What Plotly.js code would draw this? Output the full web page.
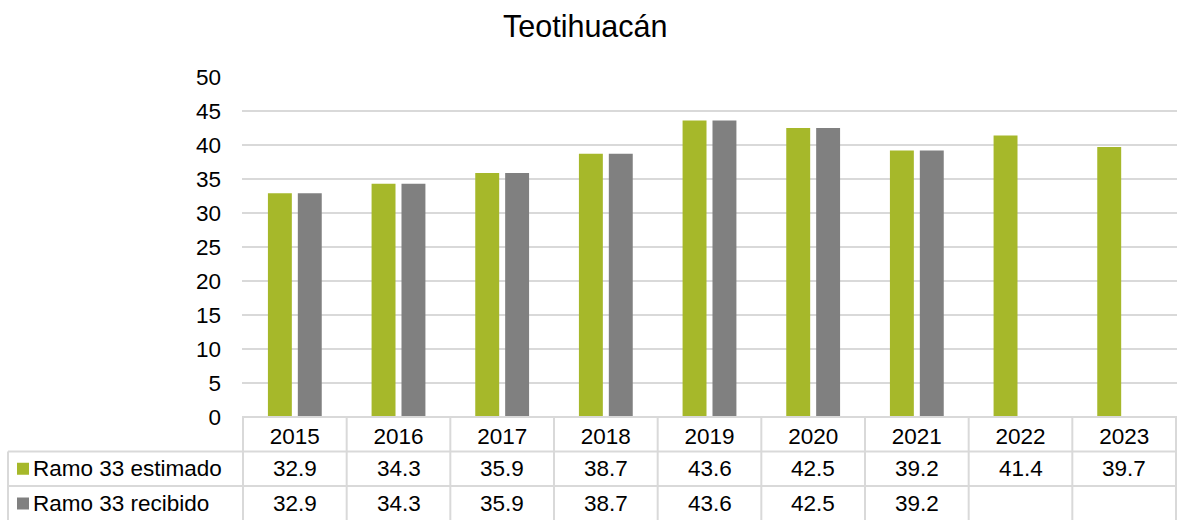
<!DOCTYPE html>
<html>
<head>
<meta charset="utf-8">
<script src="https://cdn.plot.ly/plotly-3.0.1.min.js"></script>
<style>html,body{margin:0;padding:0;background:#fff;}#chart{width:1180px;height:520px;}</style>
</head>
<body>
<div id="chart"></div>
<script>
const years = ['2015','2016','2017','2018','2019','2020','2021','2022','2023'];
const estimado = [32.9, 34.3, 35.9, 38.7, 43.6, 42.5, 39.2, 41.4, 39.7];
const recibido = [32.9, 34.3, 35.9, 38.7, 43.6, 42.5, 39.2, null, null];
const seriesNames = ['Ramo 33 estimado', 'Ramo 33 recibido'];
const seriesColors = ['#a6b82a', '#808080'];

const W = 1180, H = 520;
const M = {l: 242, r: 3, t: 77, b: 103};
const plotH = H - M.t - M.b;
const FONT = 'Liberation Sans, Arial, sans-serif';
const FS = 22.5;
const gridColor = '#d9d9d9';

// pixel helpers (paper coords)
const py = p => (H - M.b - p) / plotH;
const rowTop = H - M.b;            // 417
const rows = [rowTop, 451.5, 486, 521];
const tableLeft = 8;
const pxx = x => (x - M.l) / (W - M.l - M.r);

const traces = [
  {type: 'bar', x: years, y: estimado, name: seriesNames[0], marker: {color: seriesColors[0]}, hoverinfo: 'x+y'},
  {type: 'bar', x: years, y: recibido, name: seriesNames[1], marker: {color: seriesColors[1]}, hoverinfo: 'x+y'}
];

const shapes = [];
const annotations = [];
const line = {color: gridColor, width: 2};

// horizontal table lines
shapes.push({type: 'line', xref: 'paper', yref: 'paper', x0: 0, x1: 1, y0: py(rows[0]), y1: py(rows[0]), line});
for (let r = 1; r < 3; r++) {
  shapes.push({type: 'line', xref: 'paper', yref: 'paper', x0: pxx(tableLeft), x1: 1, y0: py(rows[r]), y1: py(rows[r]), line});
}
// vertical table lines
for (let i = 0; i <= years.length; i++) {
  shapes.push({type: 'line', xref: 'x', yref: 'paper', x0: i - 0.5, x1: i - 0.5, y0: py(rows[0]), y1: py(rows[3]), line});
}
shapes.push({type: 'line', xref: 'paper', yref: 'paper', x0: pxx(tableLeft), x1: pxx(tableLeft), y0: py(rows[1]), y1: py(rows[3]), line});

const seriesData = [estimado, recibido];
for (let s = 0; s < 2; s++) {
  const yc = (rows[s + 1] + rows[s + 2]) / 2;
  // legend key square
  shapes.push({type: 'rect', xref: 'paper', yref: 'paper', x0: pxx(17), x1: pxx(29), y0: py(yc - 6), y1: py(yc + 6),
    fillcolor: seriesColors[s], line: {width: 0}});
  annotations.push({xref: 'paper', yref: 'paper', x: pxx(31), y: py(yc), xanchor: 'left', yanchor: 'middle',
    text: seriesNames[s], showarrow: false, font: {family: FONT, size: FS, color: '#000'}});
  seriesData[s].forEach((v, i) => {
    if (v === null) return;
    annotations.push({xref: 'x', yref: 'paper', x: i, y: py(yc), xanchor: 'center', yanchor: 'middle',
      text: v.toFixed(1), showarrow: false, font: {family: FONT, size: FS, color: '#000'}});
  });
}

const layout = {
  width: W, height: H,
  margin: M,
  paper_bgcolor: '#fff', plot_bgcolor: '#fff',
  title: {text: 'Teotihuacán', font: {family: FONT, size: 30.5, color: '#000'}, x: 0.496, xanchor: 'center', y: 1 - 26 / H, yanchor: 'middle', yref: 'container'},
  font: {family: FONT, size: FS, color: '#000'},
  showlegend: false,
  barmode: 'group',
  bargap: 0.423,
  bargroupgap: 0.2,
  xaxis: {type: 'category', showgrid: false, zeroline: false, showline: false, ticks: '', ticklabelstandoff: 3,
    tickfont: {family: FONT, size: FS, color: '#000'}, fixedrange: true},
  yaxis: {range: [0, 50], dtick: 5, tick0: 0, showgrid: true, gridcolor: gridColor, gridwidth: 2, zeroline: false,
    showline: false, ticks: '', ticklabelstandoff: 20, tickfont: {family: FONT, size: FS, color: '#000'}, fixedrange: true},
  shapes, annotations
};

Plotly.newPlot('chart', traces, layout, {displayModeBar: false, staticPlot: true});
</script>
</body>
</html>
